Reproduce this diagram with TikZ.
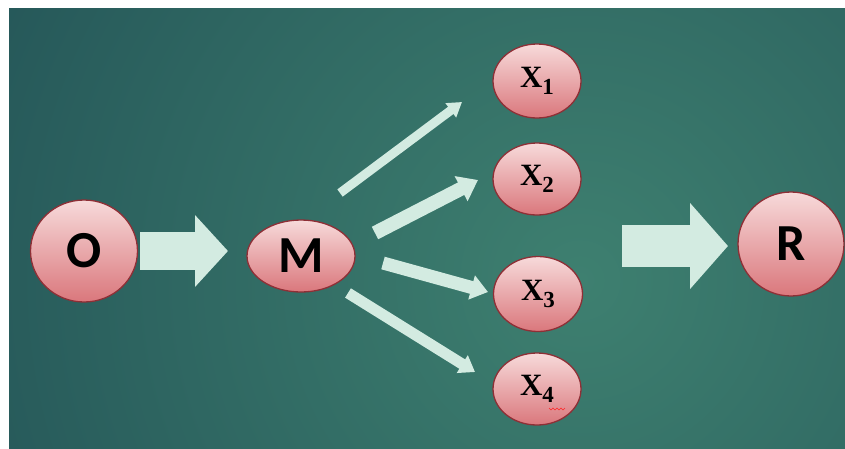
\documentclass[tikz,border=0pt]{standalone}
\usepackage{fontspec}
\setmainfont{Liberation Serif}
\newfontfamily\lblfont{Carlito}
\newfontfamily\xfont{Liberation Serif}[UprightFont=* Bold]
\usetikzlibrary{arrows.meta,shapes.geometric}
\definecolor{bgdark}{HTML}{1E4B52}
\definecolor{bglight}{HTML}{3E8070}
\definecolor{pinktop}{HTML}{F7DADA}
\definecolor{pinkbot}{HTML}{DA777C}
\definecolor{pinkline}{HTML}{8E2F36}
\definecolor{mint}{HTML}{D3EBE1}
\newcommand\xsub[1]{X\raisebox{-7pt}{\fontsize{23}{23}\selectfont #1}}
\begin{document}
\begin{tikzpicture}[x=1pt,y=-1pt,
  bubble/.style={ellipse, draw=pinkline, line width=1.3pt, top color=pinktop, bottom color=pinkbot, inner sep=0pt},
  big/.style={font=\lblfont\bfseries\fontsize{52}{52}\selectfont},
  xlbl/.style={font=\xfont\fontsize{31}{31}\selectfont},
  fanarrow/.style n args={3}{draw=mint, line width=#1, -{Triangle[width=#2, length=#3]}}
]
\useasboundingbox (0,0) rectangle (845,448);
\fill[white] (0,0) rectangle (845,448);
\begin{scope}
  \clip (9,8) rectangle (845,448);
  \shade[inner color=bglight, outer color=bgdark] (580,280) circle (850);
\end{scope}

% nodes
\node[bubble, big, minimum width=107pt, minimum height=102pt] (O) at (84,251) {O};
\node[bubble, big, minimum width=108pt, minimum height=72pt] (M) at (301,256) {M};
\node[bubble, xlbl, minimum width=88pt, minimum height=74pt] (X1) at (537,81) {\xsub{1}};
\node[bubble, xlbl, minimum width=88pt, minimum height=72pt] (X2) at (537,179) {\xsub{2}};
\node[bubble, xlbl, minimum width=89pt, minimum height=75pt] (X3) at (538,294) {\xsub{3}};
\node[bubble, xlbl, minimum width=88pt, minimum height=72pt] (X4) at (537,389) {\xsub{4}};
\node[bubble, big, minimum width=106pt, minimum height=104pt] (R) at (791,244) {R};

% arrow end points
\coordinate (omS) at (140,251);
\coordinate (omE) at (228,251);
\coordinate (rS) at (622,246);
\coordinate (rE) at (728,246);
\coordinate (a1S) at (340,193); \coordinate (a1E) at (462,102);
\coordinate (a2S) at (375,233); \coordinate (a2E) at (478,180);
\coordinate (a3S) at (383,263); \coordinate (a3E) at (488,292);
\coordinate (a4S) at (348,293); \coordinate (a4E) at (475,372);

\draw[fanarrow={38pt}{70pt}{33pt}] (omS) -- (omE);
\draw[fanarrow={42pt}{84pt}{38pt}] (rS) -- (rE);
\draw[fanarrow={9pt}{17pt}{14pt}] (a1S) -- (a1E);
\draw[fanarrow={14pt}{27pt}{19pt}] (a2S) -- (a2E);
\draw[fanarrow={13pt}{24pt}{17pt}] (a3S) -- (a3E);
\draw[fanarrow={11pt}{20pt}{15pt}] (a4S) -- (a4E);

% spell-check squiggle under X4 subscript
\draw[red!85, line width=0.6pt] (549,408)--(551,410)--(553,408)--(555,410)--(557,408)--(559,410)--(561,408)--(563,410)--(565,408);
\end{tikzpicture}
\end{document}
